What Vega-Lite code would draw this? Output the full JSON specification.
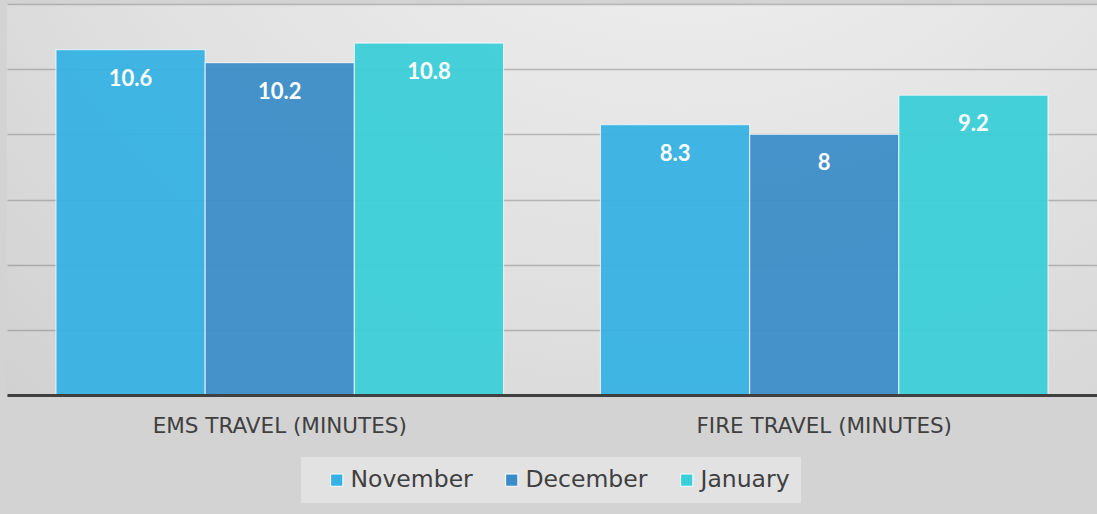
{
  "$schema": "https://vega.github.io/schema/vega-lite/v6.json",
  "width": 1090,
  "height": 391,
  "autosize": {"type": "none"},
  "padding": {"left": 7, "top": 4, "right": 0, "bottom": 119},
  "background": "#d3d3d3",
  "data": {
    "values": [
      {"category": "EMS TRAVEL (MINUTES)", "month": "November", "value": 10.6},
      {"category": "EMS TRAVEL (MINUTES)", "month": "December", "value": 10.2},
      {"category": "EMS TRAVEL (MINUTES)", "month": "January", "value": 10.8},
      {"category": "FIRE TRAVEL (MINUTES)", "month": "November", "value": 8.3},
      {"category": "FIRE TRAVEL (MINUTES)", "month": "December", "value": 8},
      {"category": "FIRE TRAVEL (MINUTES)", "month": "January", "value": 9.2}
    ]
  },
  "encoding": {
    "x": {
      "field": "category",
      "type": "nominal",
      "sort": null,
      "scale": {"paddingInner": 0.178, "paddingOuter": 0.09},
      "axis": {
        "title": null,
        "labelAngle": 0,
        "ticks": false,
        "grid": false,
        "domainColor": "#404040",
        "domainWidth": 3,
        "labelFont": "DejaVu Sans",
        "labelFontSize": 21.5,
        "labelColor": "#404040",
        "labelPadding": 20,
        "labelLimit": 500,
        "zindex": 1
      }
    },
    "xOffset": {"field": "month", "type": "nominal", "sort": ["November", "December", "January"]},
    "y": {
      "field": "value",
      "type": "quantitative",
      "scale": {"domain": [0, 12], "nice": false},
      "axis": {
        "title": null,
        "labels": false,
        "ticks": false,
        "domain": false,
        "values": [0, 2, 4, 6, 8, 10, 12],
        "gridColor": "#7a7a7a",
        "gridOpacity": 0.45,
        "gridWidth": 1.3
      }
    }
  },
  "layer": [
    {
      "mark": {"type": "bar", "stroke": "#ffffff", "strokeOpacity": 0.7, "strokeWidth": 1.2, "opacity": 0.93},
      "encoding": {
        "color": {
          "field": "month",
          "type": "nominal",
          "sort": ["November", "December", "January"],
          "scale": {"domain": ["November", "December", "January"], "range": ["#34b2e4", "#3a8cc8", "#39cfd9"]},
          "legend": {
            "title": null,
            "orient": "none",
            "direction": "horizontal",
            "legendX": 294,
            "legendY": 453,
            "fillColor": "#e2e2e2",
            "padding": 11,
            "symbolType": "square",
            "symbolSize": 150,
            "symbolOffset": 13,
            "symbolStrokeColor": "#ffffff",
            "symbolStrokeWidth": 1,
            "symbolOpacity": 1,
            "labelFont": "DejaVu Sans",
            "labelFontSize": 23.5,
            "labelColor": "#404040",
            "labelOffset": 2,
            "columnPadding": 14,
            "labelLimit": 300
          }
        }
      }
    },
    {
      "mark": {"type": "text", "dy": 29, "color": "#ffffff", "font": "Lato", "fontWeight": "bold", "fontSize": 22, "baseline": "middle", "align": "center"},
      "encoding": {"text": {"field": "value", "type": "quantitative"}}
    }
  ],
  "config": {
    "view": {
      "stroke": null,
      "fill": {
        "gradient": "radial",
        "x1": 0.62, "y1": 0.0, "x2": 0.62, "y2": 0.0,
        "r1": 0, "r2": 1.0,
        "stops": [
          {"offset": 0, "color": "#f7f7f7"},
          {"offset": 0.6, "color": "#e0e0e0"},
          {"offset": 1, "color": "#cdcdcd"}
        ]
      }
    }
  }
}
